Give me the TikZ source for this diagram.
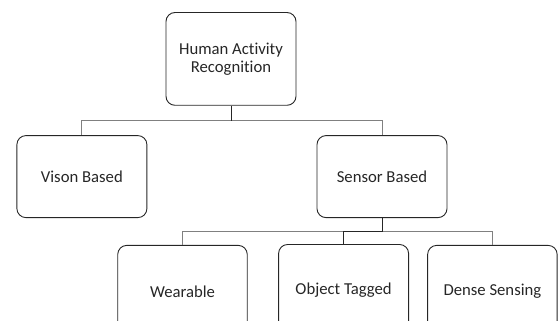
\documentclass[tikz,border=0pt]{standalone}
\usepackage{fontspec}
\setmainfont[Ligatures=NoCommon]{Carlito}
\begin{document}
\begin{tikzpicture}[x=1pt,y=1pt,
  box/.style={draw=black!85, line width=0.9pt, rounded corners=9pt, align=center,
    text=black!85, font=\fontsize{16.7}{17.8}\selectfont, inner sep=0pt},
  bus/.style={draw=black!50, line width=1pt},
  stem/.style={draw=black!85, line width=1pt}]
\useasboundingbox (0,0) rectangle (558,-321);
\clip (0,0) rectangle (558,-321);
\node[box, minimum width=130pt, minimum height=92.8pt] (har) at (231,-58.9) {Human Activity\\Recognition};
\node[box, minimum width=130pt, minimum height=82pt] (vis) at (81.9,-176.6) {Vison Based};
\node[box, minimum width=130pt, minimum height=82pt] (sen) at (382,-176.6) {Sensor Based};
\node[box, minimum width=129.5pt, minimum height=92pt] (wea) at (182.5,-291.4) {Wearable};
\node[box, minimum width=130pt, minimum height=92pt] (obj) at (343.6,-290.5) {Object Tagged};
\node[box, minimum width=129.5pt, minimum height=92pt] (den) at (492.4,-291.4) {Dense Sensing};
\coordinate (b1) at (0,-121);
\coordinate (b2) at (0,-231);
% first level
\draw[bus] (vis.north) -- (vis.north |- b1) -- (sen.north |- b1) -- (sen.north);
\draw[stem] (har.south) -- (har.south |- b1);
% second level
\draw[bus] (wea.north) -- (wea.north |- b2) -- (den.north |- b2) -- (den.north);
\draw[stem] (sen.south) -- (sen.south |- b2) -- (obj.north |- b2) -- (obj.north);
\end{tikzpicture}
\end{document}
